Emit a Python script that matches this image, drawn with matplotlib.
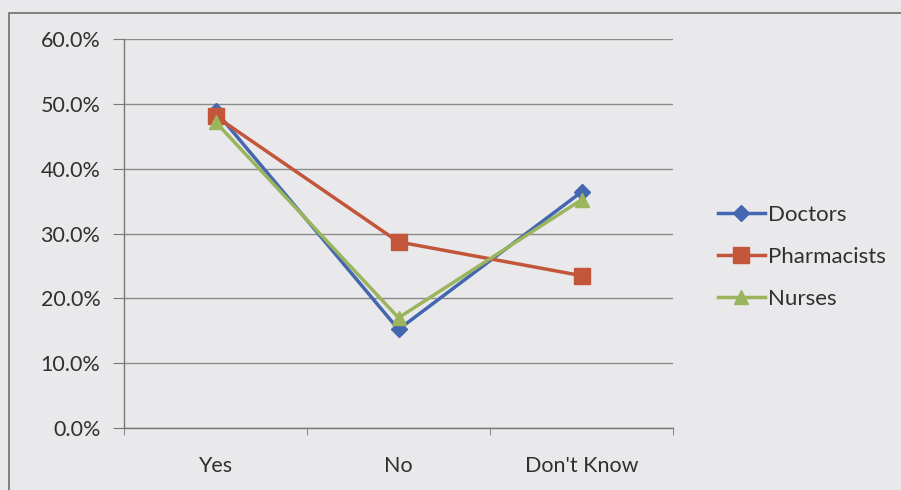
import matplotlib.pyplot as plt
from matplotlib.patches import Rectangle
from matplotlib.ticker import PercentFormatter, FixedLocator

categories = ["Yes", "No", "Don't Know"]
doctors = [48.9, 15.2, 36.4]
pharmacists = [48.1, 28.7, 23.5]
nurses = [47.2, 17.0, 35.2]

bg = '#e9e9eb'
txt = '#303030'
plt.rcParams['font.family'] = ['Lato', 'DejaVu Sans']

fig = plt.figure(figsize=(9.01, 4.90), dpi=100, facecolor=bg)
ax = fig.add_axes([124 / 901, 1 - 428 / 490, (673 - 124) / 901, (428 - 39) / 490])
ax.set_facecolor(bg)

# outer chart frame
fig.patches.append(Rectangle((9 / 901, -0.05), 1.0, 1 - 13 / 490 + 0.05,
                             transform=fig.transFigure, fill=False,
                             edgecolor='#6f6f6f', linewidth=1.2))

x = range(len(categories))
ax.plot(x, doctors, color='#4566b0', lw=2.5, marker='D', ms=8, label='Doctors', zorder=3)
ax.plot(x, pharmacists, color='#c3563a', lw=2.5, marker='s', ms=11, label='Pharmacists', zorder=3)
ax.plot(x, nurses, color='#9ab55c', lw=2.5, marker='^', ms=10, label='Nurses', zorder=4)

ax.set_xlim(-0.5, 2.5)
ax.set_ylim(0, 60)
ax.set_yticks([0, 10, 20, 30, 40, 50, 60])
ax.yaxis.set_major_formatter(PercentFormatter(decimals=1))
ax.grid(axis='y', color='#8a8a8a', lw=1.0)
ax.set_axisbelow(True)

ax.set_xticks(list(x))
ax.set_xticklabels(categories)
ax.xaxis.set_minor_locator(FixedLocator([-0.5, 0.5, 1.5, 2.5]))
ax.tick_params(axis='x', which='major', length=0, pad=20, labelsize=15.5, labelcolor=txt)
ax.tick_params(axis='x', which='minor', length=5, color='#777777', direction='out')
ax.tick_params(axis='y', length=8, color='#777777', pad=9, labelsize=15.5, labelcolor=txt)

for s in ['top', 'right']:
    ax.spines[s].set_visible(False)
for s in ['left', 'bottom']:
    ax.spines[s].set_color('#777777')
    ax.spines[s].set_linewidth(1.0)

leg = fig.legend(loc='center left', bbox_to_anchor=(698 / 901, 1 - 257 / 490),
                 frameon=False, fontsize=16, handlelength=2.1, handletextpad=0.15,
                 labelspacing=1.0)
for t in leg.get_texts():
    t.set_color(txt)

fig.savefig('out.png', dpi=100, facecolor=bg)
